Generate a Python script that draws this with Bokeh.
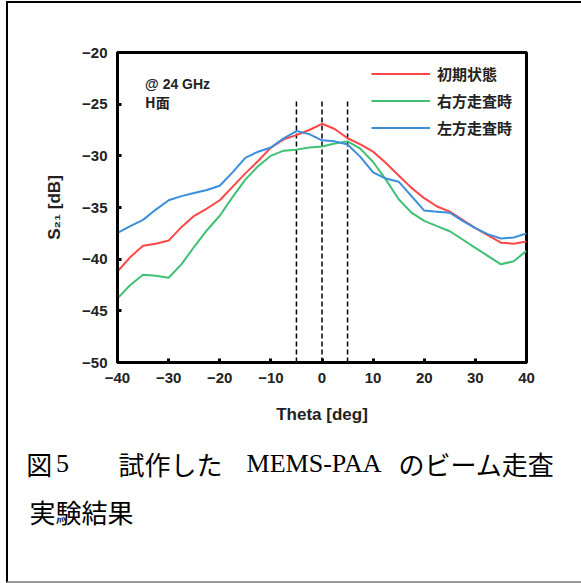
from bokeh.plotting import figure
from bokeh.layouts import column
from bokeh.models import (Range1d, FixedTicker, Label, Legend, LegendItem)
from bokeh.embed import file_html
from bokeh.resources import INLINE

# ---------------- data ----------------
theta = [-40, -37.5, -35, -32.5, -30, -27.5, -25, -22.5, -20, -17.5, -15, -12.5,
         -10, -7.5, -5, -2.5, 0, 2.5, 5, 7.5, 10, 12.5, 15, 17.5, 20, 22.5, 25,
         27.5, 30, 32.5, 35, 37.5, 40]

initial = [-41.2, -39.8, -38.7, -38.5, -38.2, -36.9, -35.8, -35.1, -34.3, -33.0,
           -31.7, -30.5, -29.2, -28.4, -28.0, -27.5, -26.9, -27.4, -28.3, -28.9,
           -29.6, -30.7, -31.9, -33.1, -34.1, -34.9, -35.4, -36.2, -37.0, -37.7,
           -38.4, -38.5, -38.3]

right_scan = [-43.8, -42.5, -41.5, -41.6, -41.8, -40.5, -38.8, -37.2, -35.8, -34.0,
              -32.3, -31.0, -30.0, -29.5, -29.4, -29.2, -29.1, -28.8, -28.6, -29.3,
              -30.6, -32.3, -34.2, -35.5, -36.3, -36.8, -37.3, -38.1, -38.9, -39.7,
              -40.5, -40.2, -39.2]

left_scan = [-37.45, -36.8, -36.2, -35.2, -34.3, -33.9, -33.6, -33.3, -32.9, -31.6,
             -30.2, -29.6, -29.2, -28.3, -27.6, -27.9, -28.5, -28.6, -28.9, -30.1,
             -31.6, -32.2, -32.5, -33.9, -35.3, -35.4, -35.5, -36.3, -37.0, -37.6,
             -38.0, -37.9, -37.5]

series_names = ["初期状態", "右方走査時", "左方走査時"]
series_colors = ["#ff4646", "#3fc072", "#3a8fdc"]

x_ticks = [-40, -30, -20, -10, 0, 10, 20, 30, 40]
y_ticks = [-50, -45, -40, -35, -30, -25, -20]

steer_angles = [-5, 0, 5]
steer_top = -24.6

caption_line1 = ["図", "5", "試作した", "MEMS-PAA", "のビーム走査"]
caption_line2 = "実験結果"

# ---------------- chart figure ----------------
W, H1, H2 = 573, 427, 151
FL, FT, FRx, FBy = 109, 49, 518, 359   # frame edges in canvas pixels
X0, X1, Y0, Y1 = -40, 40, -50, -20

p = figure(width=W, height=H1, output_backend="svg", toolbar_location=None,
           x_range=Range1d(X0, X1), y_range=Range1d(Y0, Y1),
           min_border_left=FL, min_border_right=W - FRx, min_border_top=FT,
           min_border_bottom=H1 - FBy, frame_align=False)
p.background_fill_color = "white"
p.border_fill_color = "white"
p.outline_line_color = "black"
p.outline_line_width = 3
p.xgrid.visible = False
p.ygrid.visible = False

for ax in (p.xaxis[0], p.yaxis[0]):
    ax.axis_line_width = 3
    ax.axis_line_color = "black"
    ax.major_tick_in = 4
    ax.major_tick_out = 0
    ax.major_tick_line_width = 3
    ax.minor_tick_line_color = None
    ax.major_label_text_font = "Liberation Sans"
    ax.major_label_text_font_style = "bold"
    ax.major_label_text_font_size = "15px"
    ax.major_label_text_color = "#222222"
    ax.axis_label_text_font = "Liberation Sans"
    ax.axis_label_text_font_style = "bold"
    ax.axis_label_text_font_size = "17px"
    ax.axis_label_text_color = "#222222"

p.xaxis.ticker = FixedTicker(ticks=x_ticks)
p.yaxis.ticker = FixedTicker(ticks=y_ticks)
p.xaxis.major_label_standoff = 10
p.yaxis.major_label_standoff = 10
p.xaxis.axis_label = "Theta [deg]"
p.yaxis.axis_label = "S₂₁ [dB]"
p.xaxis.axis_label_standoff = 19
p.yaxis.axis_label_standoff = 15

# steering-angle dashed lines
p.segment(x0=steer_angles, y0=[Y0] * len(steer_angles), x1=steer_angles,
          y1=[steer_top] * len(steer_angles), line_color="black",
          line_width=1.5, line_dash="5 3")

renderers = []
for ys, col in zip([initial, right_scan, left_scan], series_colors):
    r = p.line(theta, ys, line_color=col, line_width=2)
    renderers.append(r)

legend = Legend(items=[LegendItem(label=n, renderers=[r])
                       for n, r in zip(series_names, renderers)],
                location=(254, 221), orientation="vertical",
                glyph_width=59, glyph_height=27, label_height=27,
                label_standoff=7, spacing=0, padding=0, margin=0,
                border_line_color=None, background_fill_alpha=0,
                label_text_font="Noto Sans CJK JP", label_text_font_style="bold",
                label_text_font_size="15px", label_text_color="#222222")
p.add_layout(legend)

p.add_layout(Label(x=-34.6, y=-23.0, text="@ 24 GHz", text_font="Liberation Sans",
                   text_font_style="bold", text_font_size="14px",
                   text_baseline="middle", text_color="#222222"))
p.add_layout(Label(x=-34.6, y=-24.75, text="H面", text_font="Noto Sans CJK JP",
                   text_font_style="bold", text_font_size="14px",
                   text_baseline="middle", text_color="#222222"))

# ---------------- caption figure ----------------
c = figure(width=W, height=H2, output_backend="svg", toolbar_location=None,
           x_range=Range1d(0, W), y_range=Range1d(H2, 0),
           x_axis_type=None, y_axis_type=None, min_border=0, frame_align=False)
c.background_fill_color = "white"
c.border_fill_color = "white"
c.outline_line_color = None
c.xgrid.visible = False
c.ygrid.visible = False

CAP_Y0 = 430  # page y of the caption figure's top


def cap(text, page_x, page_y, font):
    c.add_layout(Label(x=page_x - 8, y=page_y - CAP_Y0, text=text, text_font=font,
                       text_font_size="26px", text_align="center",
                       text_baseline="middle", text_color="black"))


line1_centers = [38.7, 62, 170, 313.5, 476]
line1_fonts = ["Noto Sans CJK JP", "Liberation Serif", "Noto Sans CJK JP",
               "Liberation Serif", "Noto Sans CJK JP"]
for t, cx, f in zip(caption_line1, line1_centers, line1_fonts):
    cap(t, cx, 463, f)
cap(caption_line2, 81, 511, "Noto Sans CJK JP")

layout = column(p, c, spacing=0,
                styles={"margin-left": "6px", "margin-top": "1px",
                        "border-left": "2px solid #000000",
                        "border-top": "2px solid #000000",
                        "border-bottom": "2px solid #999999"})

open("out.html", "w").write(file_html(layout, INLINE))
